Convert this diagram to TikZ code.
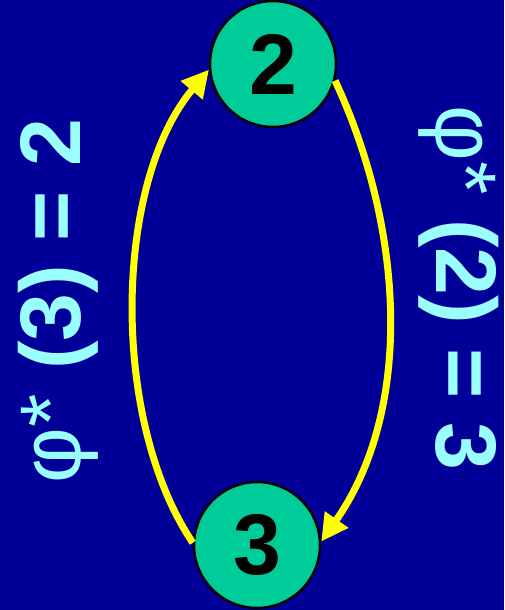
\documentclass[tikz,border=0pt]{standalone}
\usepackage{fontspec}
\setmainfont{Liberation Sans}
\usetikzlibrary{arrows.meta}

\definecolor{bgblue}{RGB}{0,0,153}
\definecolor{nodegreen}{RGB}{0,204,153}
\definecolor{labelcyan}{RGB}{153,255,255}
\definecolor{arcyellow}{RGB}{255,255,0}

\begin{document}
\begin{tikzpicture}[x=1pt, y=1pt,
    state/.style={circle, draw=black, line width=2.5pt, fill=nodegreen,
      minimum size=126pt, inner sep=0pt, font=\fontsize{86}{86}\selectfont\bfseries},
    maparc/.style={arcyellow, line width=7pt, -{Triangle[length=27pt, width=27pt]}},
    maplabel/.style={labelcyan, anchor=base, inner sep=0pt,
      font=\fontsize{86}{86}\selectfont\bfseries}]
  % Background
  \useasboundingbox (0,0) rectangle (504,-610);
  \fill[bgblue] (0,0) rectangle (504,-610);

  % States
  \node[state] (n2) at (273,-64) {2};
  \node[state] (n3) at (257,-545) {3};

  % Arcs between the states
  \draw[maparc] (n2.-15) to[out=-65, in=55, looseness=0.9] (n3.3);
  \draw[maparc] (n3.178) to[out=124, in=-130, looseness=0.8] (n2.185);

  % Labels
  \node[maplabel, rotate=90] (lab3) at (80,-301) {{\mdseries φ*} (3) = 2};
  \node[maplabel, rotate=-90] (lab2) at (436,-288) {{\mdseries φ*} (2) = 3};
\end{tikzpicture}
\end{document}
